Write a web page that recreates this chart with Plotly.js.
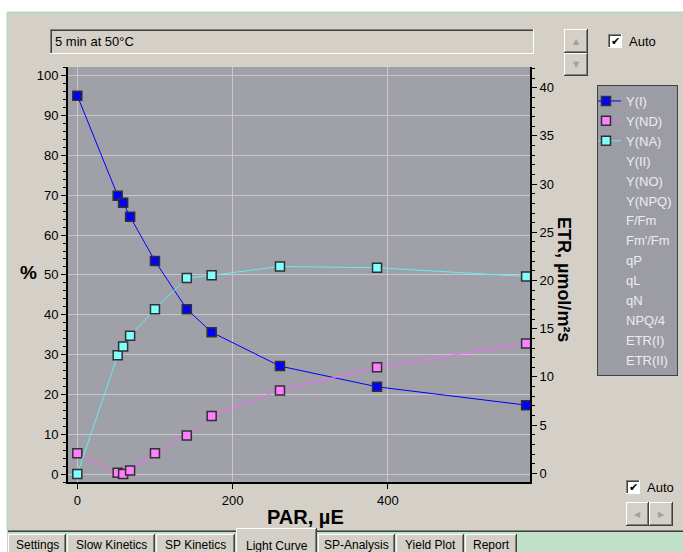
<!DOCTYPE html>
<html><head><meta charset="utf-8">
<script src="https://cdn.plot.ly/plotly-3.0.1.min.js"></script>
<style>html,body{margin:0;padding:0;background:#ffffff;}#chart{width:683px;height:552px;}</style>
</head><body><div id="chart"></div>
<script>
// ---- data ----
const par = [0, 52, 59, 68, 100, 141, 173, 261, 386, 578];          // PAR, µE
const yI  = [95.0, 69.9, 68.1, 64.6, 53.5, 41.4, 35.6, 27.1, 21.9, 17.3]; // Y(I), %
const yND = [5.2, 0.3, 0.0, 0.9, 5.2, 9.7, 14.6, 21.0, 26.8, 32.8];       // Y(ND), %
const yNA = [0.0, 29.8, 32.0, 34.7, 41.4, 49.2, 49.9, 52.1, 51.8, 49.6];  // Y(NA), %
const shownParams = ["Y(I)", "Y(ND)", "Y(NA)"];
const otherParams = ["Y(II)", "Y(NO)", "Y(NPQ)", "F/Fm", "Fm'/Fm", "qP", "qL", "qN", "NPQ/4", "ETR(I)", "ETR(II)"];
const tabLabels = ["Settings", "Slow Kinetics", "SP Kinetics", "Light Curve", "SP-Analysis", "Yield Plot", "Report"];
const activeTab = "Light Curve";
const sampleNote = "5 min at 50°C";
const xTitle = "PAR, µE";
const yTitle = "%";
const y2Title = "ETR, µmol/m²s";

// ---- layout geometry (pixels) ----
const W = 683, H = 552;
const L = 68, R = 530, T = 67, B = 482;
const fx = p => (p - L) / (R - L);
const fy = p => (B - p) / (B - T);
const tabEdges = [8, 67, 156, 236, 318, 396, 465, 518];
const FONT = "Liberation Sans, Arial, sans-serif";
const NARROW = "Liberation Sans Narrow, Arial Narrow, Liberation Sans, Arial, sans-serif";

const shapes = [];
const ann = [];
function rect(x0, y0, x1, y1, fill, lineColor) {
  shapes.push({type: 'rect', xref: 'paper', yref: 'paper', layer: 'above',
    x0: fx(x0), x1: fx(x1), y0: fy(y1), y1: fy(y0), fillcolor: fill,
    line: {width: lineColor ? 1 : 0, color: lineColor || 'rgba(0,0,0,0)'}});
}
function hl(x0, x1, y, color, w) {
  shapes.push({type: 'line', xref: 'paper', yref: 'paper', layer: 'above',
    x0: fx(x0), x1: fx(x1), y0: fy(y), y1: fy(y), line: {color: color, width: w || 1}});
}
function vl(x, y0, y1, color, w) {
  shapes.push({type: 'line', xref: 'paper', yref: 'paper', layer: 'above',
    x0: fx(x), x1: fx(x), y0: fy(y0), y1: fy(y1), line: {color: color, width: w || 1}});
}
function raised(x0, y0, x1, y1) {
  rect(x0, y0, x1, y1, '#d4d0c8');
  hl(x0, x1, y0 + 0.5, '#ffffff'); vl(x0 + 0.5, y0, y1, '#ffffff');
  hl(x0, x1, y1 - 0.5, '#404040'); vl(x1 - 0.5, y0, y1, '#404040');
  hl(x0 + 1, x1 - 1, y1 - 1.5, '#808080'); vl(x1 - 1.5, y0 + 1, y1 - 1, '#808080');
}
function sunken(x0, y0, x1, y1, fill) {
  rect(x0, y0, x1, y1, fill);
  hl(x0, x1, y0 + 0.5, '#808080'); vl(x0 + 0.5, y0, y1, '#808080');
  hl(x0 + 1, x1 - 1, y0 + 1.5, '#404040'); vl(x0 + 1.5, y0 + 1, y1 - 1, '#404040');
  hl(x0, x1, y1 - 0.5, '#ffffff'); vl(x1 - 0.5, y0, y1, '#ffffff');
}
function text(px, py, s, opts) {
  ann.push(Object.assign({xref: 'paper', yref: 'paper', x: fx(px), y: fy(py), text: s,
    showarrow: false, xanchor: 'left', yanchor: 'middle',
    font: {family: FONT, size: 12, color: '#000000'}}, opts || {}));
}

// window frame
rect(0, 0, W, 12, '#ffffff');
rect(0, 0, 7, H, '#ffffff');
hl(7, W, 12.5, '#b4dabc', 2);
vl(7.5, 12, 531, '#b4dabc', 2);

// note box
sunken(50, 29, 534, 54, '#d4d0c8');
text(53, 41.5, sampleNote, {font: {family: NARROW, size: 13, color: '#000'}});

// spin buttons
raised(564, 29, 588, 53);
raised(564, 53, 588, 76);
text(576, 41, '▲', {xanchor: 'center', font: {family: 'DejaVu Sans', size: 8, color: '#a0a0a0'}});
text(576, 64.5, '▼', {xanchor: 'center', font: {family: 'DejaVu Sans', size: 8, color: '#a0a0a0'}});

// top Auto checkbox
sunken(608, 34, 622, 48, '#ffffff');
text(615, 41.5, '✔', {xanchor: 'center', font: {family: 'DejaVu Sans', size: 11, color: '#000'}});
text(627, 41.5, 'Auto', {font: {family: FONT, size: 13, color: '#000'}});

// bottom Auto checkbox
sunken(626, 480, 640, 494, '#ffffff');
text(633, 487.5, '✔', {xanchor: 'center', font: {family: 'DejaVu Sans', size: 11, color: '#000'}});
text(645, 487.5, 'Auto', {font: {family: FONT, size: 13, color: '#000'}});

// scroll buttons
raised(626, 502, 649, 526);
raised(649, 502, 673, 526);
text(637.5, 514, '◀', {xanchor: 'center', font: {family: 'DejaVu Sans', size: 8, color: '#a0a0a0'}});
text(661, 514, '▶', {xanchor: 'center', font: {family: 'DejaVu Sans', size: 8, color: '#a0a0a0'}});

// tab strip
rect(8, 532, W, H, '#c0e0c8');
hl(8, W, 530.5, '#808080');
hl(8, W, 531.5, '#404040');
tabLabels.forEach((lab, i) => {
  const x0 = tabEdges[i], x1 = tabEdges[i + 1] - 1;
  const active = lab === activeTab;
  const y0 = active ? 528 : 534;
  rect(x0, y0, x1, H, '#d4d0c8');
  hl(x0, x1, y0 + 0.5, '#ffffff');
  vl(x0 + 0.5, y0, H, '#ffffff');
  vl(x1 - 0.5, y0, H, '#404040');
  vl(x1 - 1.5, y0 + 1, H, '#808080');
  text((x0 + x1) / 2, active ? 546 : 544.5, lab, {xanchor: 'center', font: {family: FONT, size: 12, color: '#000'}});
});

// axis titles
text(28, 272, yTitle, {xanchor: 'center', font: {family: FONT, size: 19, color: '#000'}, text: '<b>' + yTitle + '</b>'});
text(305, 517, xTitle, {xanchor: 'center', font: {family: FONT, size: 20, color: '#000'}, text: '<b>' + xTitle + '</b>'});
text(564, 279, y2Title, {xanchor: 'center', textangle: 90, font: {family: FONT, size: 18, color: '#000'}, text: '<b>' + y2Title + '</b>'});

// ---- traces ----
const mk = (fill) => ({symbol: 'square', size: 9, color: fill, line: {color: '#303030', width: 1.5}});
const traces = [
  {x: par, y: yI, name: shownParams[0], type: 'scatter', mode: 'lines+markers',
   line: {color: '#0000ff', width: 1}, marker: mk('#0000ff')},
  {x: par, y: yND, name: shownParams[1], type: 'scatter', mode: 'lines+markers',
   line: {color: '#ff66ff', width: 1}, marker: mk('#ff80ff')},
  {x: par, y: yNA, name: shownParams[2], type: 'scatter', mode: 'lines+markers',
   line: {color: '#66eeee', width: 1}, marker: mk('#80ffff')}
];
// parameters that are listed in the legend but not plotted (no values)
otherParams.forEach(n => {
  traces.push({x: [null], y: [null], name: n, type: 'scatter', mode: 'lines',
    yaxis: n.startsWith('ETR') ? 'y2' : 'y',
    line: {color: 'rgba(0,0,0,0)', width: 0}});
});

const tickFont = {family: FONT, size: 13, color: '#000'};
const layout = {
  width: W, height: H,
  margin: {l: L, r: W - R, t: T, b: H - B, pad: 0, autoexpand: false},
  paper_bgcolor: '#d4d0c8',
  plot_bgcolor: '#a0a0a8',
  showlegend: true,
  legend: {x: fx(597), y: fy(85), xanchor: 'left', yanchor: 'top',
    bgcolor: '#9c9ca4', bordercolor: '#404040', borderwidth: 1,
    font: {family: FONT, size: 13, color: '#ececf0'},
    itemwidth: 30, indentation: -12, tracegroupgap: 0, traceorder: 'normal'},
  xaxis: {range: [-12, 583], tick0: 0, dtick: 200, showgrid: true, gridcolor: '#c8c8cc', gridwidth: 1,
    zeroline: false, showline: true, linecolor: '#000', linewidth: 2,
    ticks: 'outside', ticklen: 5, tickcolor: '#000', tickfont: tickFont, automargin: false},
  yaxis: {range: [-2.0, 102.2], tick0: 0, dtick: 10, showgrid: true, gridcolor: '#c8c8cc', gridwidth: 1,
    zeroline: false, showline: true, linecolor: '#000', linewidth: 2, automargin: false,
    ticks: 'outside', ticklen: 5, tickcolor: '#000', tickfont: tickFont,
    minor: {dtick: 2, ticks: 'outside', ticklen: 3, tickcolor: '#000', showgrid: false}},
  yaxis2: {range: [-0.9, 42.15], tick0: 0, dtick: 5, overlaying: 'y', side: 'right', showgrid: false,
    zeroline: false, showline: true, linecolor: '#000', linewidth: 2, automargin: false,
    ticks: 'outside', ticklen: 5, tickcolor: '#000', tickfont: tickFont,
    minor: {dtick: 1, ticks: 'outside', ticklen: 3, tickcolor: '#000', showgrid: false}},
  shapes: shapes,
  annotations: ann
};
Plotly.newPlot('chart', traces, layout, {staticPlot: true, displayModeBar: false});
</script>
</body></html>
